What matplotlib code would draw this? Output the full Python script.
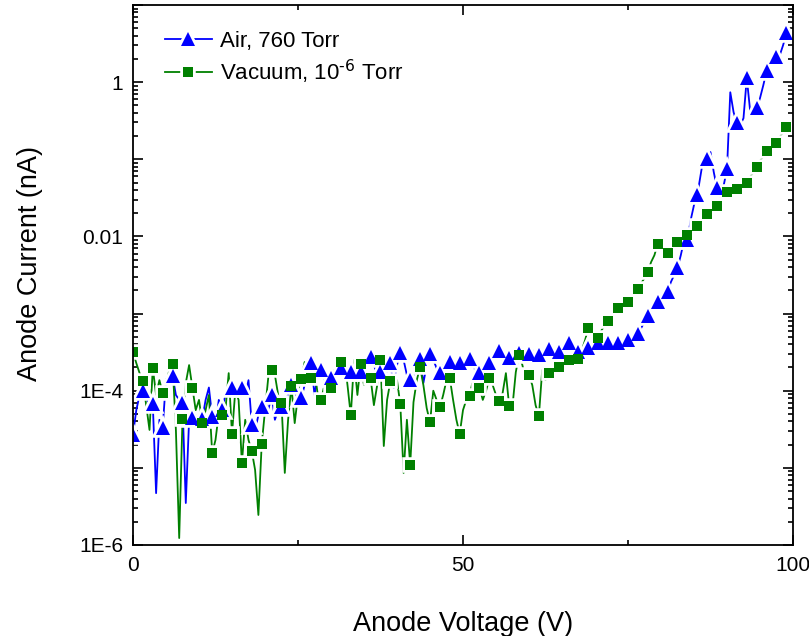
import numpy as np
import matplotlib
matplotlib.use("Agg")
import matplotlib.pyplot as plt
from matplotlib.legend_handler import HandlerTuple
from matplotlib.ticker import FixedLocator, FuncFormatter, LogLocator, MultipleLocator, NullFormatter

plt.rcParams["font.family"] = ["Liberation Sans", "DejaVu Sans"]
plt.rcParams["mathtext.default"] = "regular"
plt.rcParams["axes.unicode_minus"] = False

# anode voltage sweep, 0.5 V steps (markers on every third point)
voltage = np.arange(0, 99.5, 0.5)

# anode current (nA), air at 760 Torr
air_current = [
    2.7e-5, 5.6e-5, 8.8e-5, 1.0e-4, 8.0e-5, 6.5e-5, 6.7e-5, 4.7e-6, 4.2e-5, 3.3e-5,
    1.4e-4, 1.55e-4, 1.55e-4, 8.8e-5, 7.6e-5, 6.9e-5, 3.5e-6, 4.2e-5, 4.4e-5, 4.8e-5,
    3.9e-5, 4.3e-5, 7.6e-5, 1.1e-4, 4.6e-5, 3.6e-5, 7.6e-5, 5.6e-5, 8.8e-5, 9.6e-5,
    1.1e-4, 1.0e-4, 8.8e-5, 1.1e-4, 8.8e-5, 1.37e-4, 3.6e-5, 3.1e-5, 4.8e-5, 6.1e-5,
    7.6e-5, 5.6e-5, 8.8e-5, 4.2e-5, 5.6e-5, 6.1e-5, 7.6e-5, 8.8e-5, 1.18e-4, 1.0e-4,
    7.6e-5, 8.0e-5, 1.18e-4, 1.85e-4, 2.28e-4, 8.8e-5, 1.6e-4, 1.85e-4, 1.37e-4, 1.74e-4,
    1.46e-4, 1.85e-4, 1.6e-4, 1.97e-4, 1.6e-4, 1.85e-4, 1.74e-4, 2.15e-4, 1.37e-4, 1.74e-4,
    1.85e-4, 2.5e-4, 2.73e-4, 2.15e-4, 1.6e-4, 1.74e-4, 1.37e-4, 1.85e-4, 2.28e-4, 1.08e-4,
    2.15e-4, 3.1e-4, 2.5e-4, 1.6e-4, 1.37e-4, 1.6e-4, 2.28e-4, 2.57e-4, 1.26e-4, 2.15e-4,
    2.98e-4, 2.5e-4, 1.97e-4, 1.69e-4, 2.15e-4, 2.35e-4, 2.35e-4, 2.5e-4, 2.15e-4, 2.28e-4,
    2.35e-4, 2.5e-4, 2.57e-4, 2.15e-4, 1.74e-4, 1.69e-4, 1.18e-4, 1.97e-4, 2.28e-4, 2.9e-4,
    3.17e-4, 3.26e-4, 2.35e-4, 2.8e-4, 2.65e-4, 2.9e-4, 3.1e-4, 3.1e-4, 2.8e-4, 3.17e-4,
    2.98e-4, 3.36e-4, 2.35e-4, 2.9e-4, 3.17e-4, 3.36e-4, 3.46e-4, 2.98e-4, 3.26e-4, 3.17e-4,
    3.57e-4, 3.79e-4, 4.15e-4, 3.36e-4, 3.17e-4, 3.17e-4, 3.46e-4, 3.68e-4, 3.57e-4, 3.9e-4,
    4.15e-4, 4.15e-4, 4.0e-4, 4.15e-4, 4.15e-4, 4.27e-4, 4.0e-4, 4.15e-4, 4.27e-4, 4.4e-4,
    4.53e-4, 4.8e-4, 5.1e-4, 5.4e-4, 6.5e-4, 7.75e-4, 9.3e-4, 1.11e-3, 1.29e-3, 1.41e-3,
    1.59e-3, 1.74e-3, 1.9e-3, 2.56e-3, 3.15e-3, 3.9e-3, 5.7e-3, 8.9e-3, 8.9e-3, 1.63e-2,
    2.55e-2, 3.43e-2, 6.2e-2, 1.13e-1, 1.0e-1, 1.24e-1, 6.8e-2, 4.2e-2, 3.23e-2, 4.6e-2,
    7.4e-2, 7.4e-1, 4.08e-1, 2.94e-1, 2.77e-1, 3.41e-1, 1.13, 4.33e-1, 4.08e-1, 4.6e-1,
    6.2e-1, 9.1e-1, 1.39, 1.81, 1.93, 2.11, 2.24, 3.01, 4.3,
]

# anode current (nA), vacuum at 1e-6 Torr
vacuum_current = [
    3.17e-4, 2.28e-4, 1.69e-4, 1.33e-4, 6.5e-5, 3.1e-5, 1.97e-4, 8.8e-5, 1.37e-4, 9.3e-5,
    1.18e-4, 1.85e-4, 2.21e-4, 3.1e-5, 1.23e-6, 4.3e-5, 1.26e-4, 2.15e-4, 1.1e-4, 5.6e-5,
    7.6e-5, 3.8e-5, 5.6e-5, 8.8e-5, 1.55e-5, 2.3e-5, 5.1e-5, 4.8e-5, 5.6e-5, 1.69e-4,
    2.74e-5, 1.0e-4, 7.6e-5, 1.15e-5, 4.2e-5, 2.3e-5, 1.65e-5, 9.4e-6, 2.45e-6, 2.03e-5,
    5.6e-5, 1.5e-4, 1.85e-4, 1.6e-4, 8.8e-5, 6.9e-5, 8.6e-6, 4.2e-5, 1.15e-4, 3.8e-5,
    8.8e-5, 1.4e-4, 2.35e-4, 1.6e-4, 1.46e-4, 1.85e-4, 8.8e-5, 7.6e-5, 1.18e-4, 1.6e-4,
    1.08e-4, 1.6e-4, 2.15e-4, 2.35e-4, 2.73e-4, 1.18e-4, 4.8e-5, 2.5e-4, 8.8e-5, 2.21e-4,
    1.18e-4, 1.6e-4, 1.46e-4, 6.5e-5, 1.18e-4, 2.5e-4, 1.92e-5, 7.6e-5, 1.33e-4, 1.18e-4,
    1.37e-4, 6.7e-5, 8.6e-6, 4.2e-5, 1.09e-5, 7.1e-5, 1.37e-4, 2.03e-4, 1.18e-4, 5.95e-5,
    3.9e-5, 1.0e-4, 7.6e-5, 6.1e-5, 8.8e-5, 1.37e-4, 1.46e-4, 7.6e-5, 4.2e-5, 2.74e-5,
    5.6e-5, 7.6e-5, 8.5e-5, 1.37e-4, 8.8e-5, 1.1e-4, 7.6e-5, 1.0e-4, 1.46e-4, 1.18e-4,
    8.8e-5, 7.35e-5, 9.3e-5, 1.69e-4, 6.3e-5, 6.3e-5, 1.74e-4, 2.9e-4, 2.15e-4, 1.37e-4,
    1.6e-4, 1.18e-4, 6.5e-5, 4.7e-5, 1.85e-4, 1.37e-4, 1.69e-4, 1.85e-4, 1.74e-4, 2.03e-4,
    2.15e-4, 2.35e-4, 2.5e-4, 2.5e-4, 2.43e-4, 2.57e-4, 3.36e-4, 4.53e-4, 6.5e-4, 5.3e-4,
    4.8e-4, 4.8e-4, 6.1e-4, 7.1e-4, 8.0e-4, 9.3e-4, 1.08e-3, 1.18e-3, 1.25e-3, 1.33e-3,
    1.41e-3, 1.64e-3, 1.84e-3, 2.08e-3, 2.48e-3, 2.88e-3, 3.45e-3, 4.65e-3, 5.7e-3, 7.95e-3,
    7.05e-3, 6.45e-3, 6.1e-3, 6.85e-3, 7.7e-3, 8.4e-3, 8.9e-3, 9.8e-3, 1.04e-2, 1.14e-2,
    1.24e-2, 1.36e-2, 1.53e-2, 1.73e-2, 1.95e-2, 2.13e-2, 2.33e-2, 2.47e-2, 2.87e-2, 3.33e-2,
    3.75e-2, 3.86e-2, 3.98e-2, 4.1e-2, 4.36e-2, 4.6e-2, 4.9e-2, 5.9e-2, 6.8e-2, 7.9e-2,
    9.5e-2, 1.1e-1, 1.27e-1, 1.39e-1, 1.48e-1, 1.62e-1, 1.94e-1, 2.25e-1, 2.61e-1,
]

y_tick_labels = {1e-6: "1E-6", 1e-4: "1E-4", 1e-2: "0.01", 1.0: "1"}

fig = plt.figure(figsize=(8.09, 6.36), dpi=100)
ax = fig.add_axes([0.1644, 0.1431, 0.8158, 0.849])

series = [
    (air_current, "#0000ff", "^", 9.5, "Air, 760 Torr"),
    (vacuum_current, "#008000", "s", 7.5, r"Vacuum, 10$^{\text{-6}}$ Torr"),
]

# lines first, then white halos (Origin-style gap round each symbol), then the symbols
handles = []
for current, color, marker, size, label in series:
    line, = ax.plot(voltage, current, color=color, lw=1.3, zorder=2)
    halo, = ax.plot(voltage, current, ls="none", marker=marker, markevery=3, markersize=size,
                    color="white", markeredgecolor="white", markeredgewidth=4, zorder=3)
    handles.append([line, halo])
for (current, color, marker, size, label), handle in zip(series, handles):
    sym, = ax.plot(voltage, current, ls="none", marker=marker, markevery=3, markersize=size,
                   color=color, markeredgewidth=0, zorder=4)
    handle.append(sym)

ax.set_yscale("log")
ax.set_xlim(0, 100)
ax.set_ylim(1e-6, 10)

ax.xaxis.set_major_locator(MultipleLocator(50))
ax.xaxis.set_minor_locator(MultipleLocator(25))
ax.yaxis.set_major_locator(FixedLocator([1e-6, 1e-5, 1e-4, 1e-3, 1e-2, 1e-1, 1, 10]))
ax.yaxis.set_minor_locator(LogLocator(base=10, subs=np.arange(2, 10), numticks=20))
ax.yaxis.set_major_formatter(FuncFormatter(lambda v, pos: y_tick_labels.get(round(v, 8), "")))
ax.yaxis.set_minor_formatter(NullFormatter())

ax.tick_params(which="both", direction="in", top=True, right=True, width=1.2, labelsize=15)
ax.tick_params(which="major", length=7.5)
ax.tick_params(which="minor", length=3.8)
ax.tick_params(axis="x", pad=8)
ax.tick_params(axis="y", pad=7)
for spine in ax.spines.values():
    spine.set_linewidth(1.3)
    spine.set_zorder(5)

ax.set_xlabel("Anode Voltage (V)", fontsize=19.5)
ax.set_ylabel("Anode Current (nA)", fontsize=19.5)
ax.xaxis.set_label_coords(0.5, -0.122)
ax.yaxis.set_label_coords(-0.136, 0.522)

ax.legend([tuple(h) for h in handles], [s[4] for s in series],
          handler_map={tuple: HandlerTuple(ndivide=1, pad=0)},
          loc="upper left", bbox_to_anchor=(0.0485, 0.952), frameon=False, fontsize=16,
          borderpad=0, borderaxespad=0, handlelength=2.1, handletextpad=0.36,
          labelspacing=0.25)

fig.savefig("out.png", dpi=100)
